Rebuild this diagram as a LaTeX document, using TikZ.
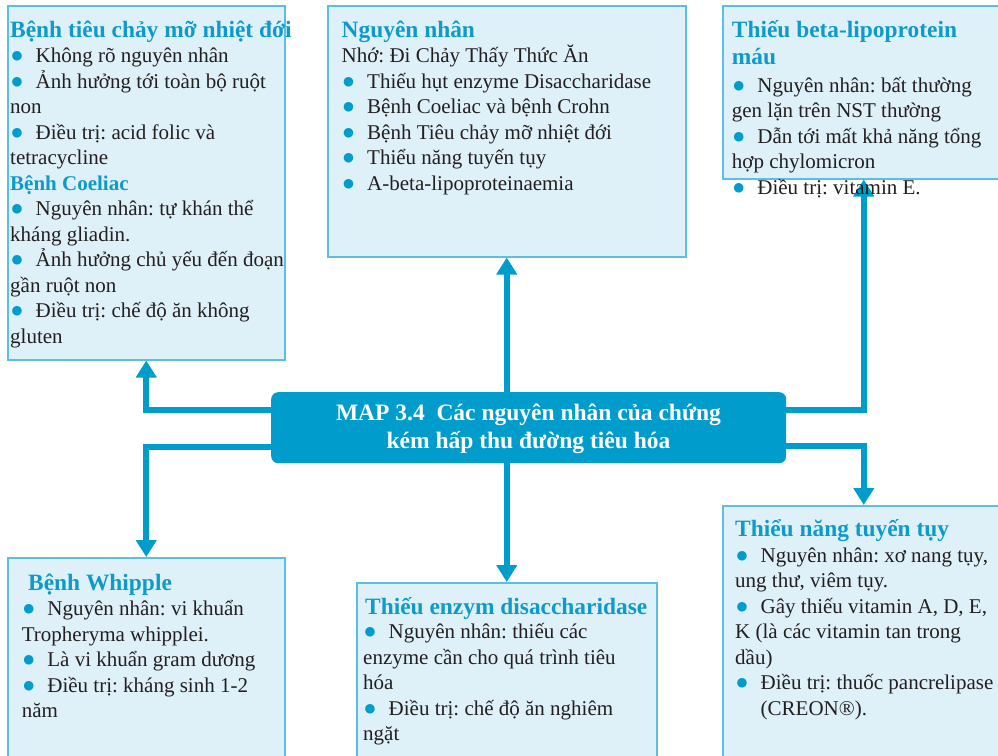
\documentclass[tikz,border=0pt]{standalone}
\usepackage{fontspec}
\setmainfont{Liberation Serif}
\newfontfamily\dotfont{DejaVu Sans}
\usetikzlibrary{arrows.meta}
\frenchspacing

\definecolor{boxfill}{HTML}{DEF0F8}
\definecolor{boxline}{HTML}{5BBFE3}
\definecolor{headc}{HTML}{0E9BCB}
\definecolor{linkc}{HTML}{009DCC}
\definecolor{inkc}{HTML}{231F20}

% type sizes
\newcommand\bodysize{\fontsize{21}{25.5}\selectfont}
\newcommand\headsize{\fontsize{23.4}{27}\selectfont}
% blue bullet followed by a fixed gap
\newcommand\bul{\makebox[25.5pt][l]{\hspace{1.5pt}\raisebox{3pt}{\textcolor{linkc}{\dotfont\fontsize{12.5}{12.5}\selectfont ●}}}}
% one line of a panel: heading, sub-heading, body
\newcommand\hd[1]{\hbox{\headsize\bfseries\color{headc}#1}}
\newcommand\sh[1]{\hbox{\bodysize\bfseries\color{headc}#1}}
\newcommand\tline[1]{\hbox{\bodysize #1}}
% stack of lines with a fixed baseline distance, aligned on the first baseline
\newcommand\blk[1]{\vtop{\baselineskip=25.5pt\lineskiplimit=-100pt\lineskip=0pt #1}}

\tikzset{
  panel/.style={draw=boxline, line width=1.5pt, fill=boxfill, anchor=north west, inner sep=0pt},
  hub/.style={fill=linkc, rounded corners=7pt, anchor=north west, inner sep=0pt,
              minimum width=515pt, minimum height=71pt},
  conn/.style={draw=linkc, line width=6pt, -{Triangle[width=20pt,length=17pt]}},
  txt/.style={anchor=base west, inner sep=0pt, text=inkc},
}

\begin{document}
\begin{tikzpicture}[x=1pt,y=-1pt]
\useasboundingbox (0,0) rectangle (998,755);

% panels
\node[panel, minimum width=277pt, minimum height=354pt] (tl) at (7,5) {};
\node[panel, minimum width=358pt, minimum height=251pt] (tc) at (327,5) {};
\node[panel, minimum width=282pt, minimum height=173pt] (tr) at (722,5) {};
\node[panel, minimum width=277pt, minimum height=210pt] (bl) at (7,557) {};
\node[panel, minimum width=300pt, minimum height=190pt] (bc) at (356,582) {};
\node[panel, minimum width=282pt, minimum height=270pt] (br) at (722,505) {};

% central box
\node[hub] (map) at (271,392) {};

% connectors
\draw[conn] ([yshift=17.5pt]map.west) -| (tl.south);
\draw[conn] ([yshift=-19pt]map.west) -| (bl.north);
\draw[conn] ([yshift=17.5pt]map.east) -| (tr.south);
\draw[conn] ([yshift=-18.5pt]map.east) -| (br.north);
\draw[conn] (map.north -| tc.south) -- (tc.south);
\draw[conn] (map.south -| bc.north) -- (bc.north);

% central title
\node[anchor=base, inner sep=0pt, text=white, font=\bfseries] (maptitle) at (528.5,420)
  {\parbox[t]{510pt}{\centering\fontsize{23.5}{28}\selectfont
   MAP 3.4\ \ Các nguyên nhân của chứng\\kém hấp thu đường tiêu hóa}};

% panel texts
\node[txt] (tltext) at (10,37) {\blk{%
  \hd{Bệnh tiêu chảy mỡ nhiệt đới}
  \tline{\bul Không rõ nguyên nhân}
  \tline{\bul Ảnh hưởng tới toàn bộ ruột}
  \tline{non}
  \tline{\bul Điều trị: acid folic và}
  \tline{tetracycline}
  \sh{Bệnh Coeliac}
  \tline{\bul Nguyên nhân: tự khán thể}
  \tline{kháng gliadin.}
  \tline{\bul Ảnh hưởng chủ yếu đến đoạn}
  \tline{gần ruột non}
  \tline{\bul Điều trị: chế độ ăn không}
  \tline{gluten}}};

\node[txt] (tctext) at (341.5,37.3) {\blk{%
  \hd{Nguyên nhân}
  \tline{Nhớ: Đi Chảy Thấy Thức Ăn}
  \tline{\bul Thiếu hụt enzyme Disaccharidase}
  \tline{\bul Bệnh Coeliac và bệnh Crohn}
  \tline{\bul Bệnh Tiêu chảy mỡ nhiệt đới}
  \tline{\bul Thiểu năng tuyến tụy}
  \tline{\bul A-beta-lipoproteinaemia}}};

\node[txt] (trtext) at (731.7,37) {\blk{%
  \hd{Thiếu beta-lipoprotein}\kern1.5pt
  \hd{máu}\kern2.5pt
  \tline{\bul Nguyên nhân: bất thường}
  \tline{gen lặn trên NST thường}
  \tline{\bul Dẫn tới mất khả năng tổng}
  \tline{hợp chylomicron}
  \tline{\bul Điều trị: vitamin E.}}};

\node[txt] (bltext) at (21.7,590) {\blk{%
  \hd{\hspace{6.3pt}Bệnh Whipple}
  \tline{\bul Nguyên nhân: vi khuẩn}
  \tline{Tropheryma whipplei.}
  \tline{\bul Là vi khuẩn gram dương}
  \tline{\bul Điều trị: kháng sinh 1-2}
  \tline{năm}}};

\node[txt] (bctext) at (363,614) {\blk{%
  \hd{\hspace{2pt}Thiếu enzym disaccharidase}\kern-1pt
  \tline{\bul Nguyên nhân: thiếu các}
  \tline{enzyme cần cho quá trình tiêu}
  \tline{hóa}
  \tline{\bul Điều trị: chế độ ăn nghiêm}
  \tline{ngặt}}};

\node[txt] (brtext) at (735,536.7) {\blk{%
  \hd{Thiểu năng tuyến tụy}
  \tline{\bul Nguyên nhân: xơ nang tụy,}
  \tline{ung thư, viêm tụy.}
  \tline{\bul Gây thiếu vitamin A, D, E,}
  \tline{K (là các vitamin tan trong}
  \tline{dầu)}
  \tline{\bul Điều trị: thuốc pancrelipase}
  \tline{\hspace{25.5pt}(CREON®).}}};
\end{tikzpicture}
\end{document}
